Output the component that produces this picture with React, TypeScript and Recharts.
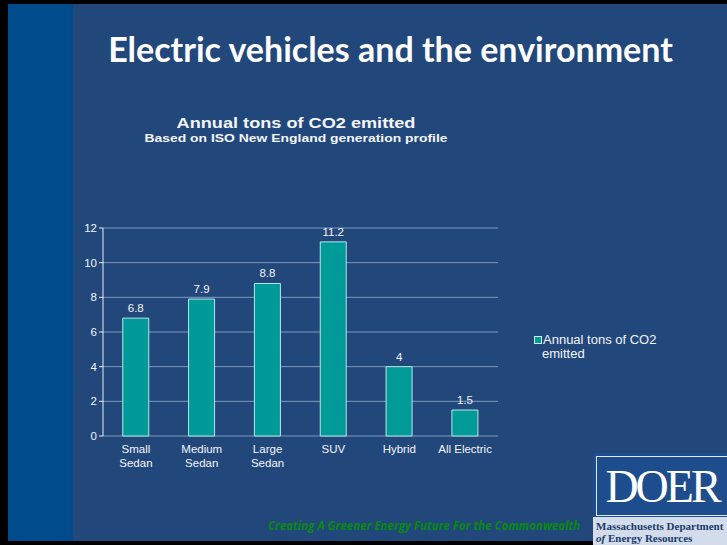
import { BarChart, Bar, XAxis, YAxis, CartesianGrid, LabelList } from "recharts";

const categories = ["Small\nSedan", "Medium\nSedan", "Large\nSedan", "SUV", "Hybrid", "All Electric"];
const co2Tons = [6.8, 7.9, 8.8, 11.2, 4, 1.5];
const yTicks = [0, 2, 4, 6, 8, 10, 12];
const boundaryTicks = [0, 1, 2, 3, 4, 5, 6];

const SERIES_NAME = "Annual tons of CO2 emitted";
const BAR_FILL = "#009a99";
const SLIDE_BG = "#22477b";
const STRIPE_BG = "#004b8b";
const TEXT = "#f2f5f9";

const data = categories.map((c, i) => ({ idx: i, name: c, value: co2Tons[i] }));

const CategoryTick = (props: any) => {
  const { x, y, payload } = props;
  const lines = String(payload.value).split("\n");
  return (
    <text x={x} y={y} textAnchor="middle" fill={TEXT} fontSize={11.5} fontFamily="Liberation Sans, Arial">
      {lines.map((l, i) => (
        <tspan key={i} x={x} dy={i === 0 ? 9 : 14}>
          {l}
        </tspan>
      ))}
    </text>
  );
};

export default function App() {
  return (
    <div style={{ position: "absolute", left: 0, top: 0, width: 727, height: 545, background: "#000", overflow: "hidden" }}>
      <div style={{ position: "absolute", left: 8, top: 4, width: 719, height: 537, background: SLIDE_BG }} />
      <div style={{ position: "absolute", left: 8, top: 4, width: 65, height: 537, background: STRIPE_BG }} />

      {/* slide title */}
      <div
        style={{
          position: "absolute",
          left: 73,
          width: 635,
          top: 28,
          textAlign: "center",
          color: "#fff",
          fontFamily: "Lato, sans-serif",
          fontWeight: 700,
          fontSize: 34,
          whiteSpace: "nowrap",
        }}
      >
        Electric vehicles and the environment
      </div>

      {/* chart titles */}
      <div
        style={{
          position: "absolute",
          left: 146,
          width: 300,
          top: 114,
          textAlign: "center",
          color: TEXT,
          fontFamily: "Liberation Sans, Arial, sans-serif",
          fontWeight: 700,
          lineHeight: "normal",
          whiteSpace: "nowrap",
        }}
      >
        <div style={{ fontSize: 15.5, transform: "scaleX(1.17)" }}>{SERIES_NAME}</div>
        <div style={{ fontSize: 11.5, transform: "scaleX(1.21)" }}>Based on ISO New England generation profile</div>
      </div>

      <div style={{ position: "absolute", left: 0, top: 0 }}>
        <BarChart
          width={727}
          height={545}
          data={data}
          margin={{ top: 228, right: 229, bottom: 69, left: 63 }}
          barCategoryGap="30%"
        >
          <CartesianGrid vertical={false} stroke="#7f99bd" strokeWidth={1} />
          <XAxis
            xAxisId="edges"
            type="number"
            dataKey="idx"
            domain={[0, 6]}
            ticks={boundaryTicks}
            tick={false}
            height={0}
            stroke="#e8eef5"
            tickSize={5}
          />
          <XAxis
            xAxisId="cats"
            dataKey="name"
            type="category"
            axisLine={false}
            tickLine={false}
            height={40}
            interval={0}
            tick={<CategoryTick />}
          />
          <YAxis
            width={40}
            domain={[0, 12]}
            ticks={yTicks}
            stroke="#e8eef5"
            tickSize={4}
            tick={{ fill: TEXT, fontSize: 11.5, fontFamily: "Liberation Sans, Arial" }}
          />
          <Bar
            xAxisId="cats"
            dataKey="value"
            name={SERIES_NAME}
            fill={BAR_FILL}
            stroke="#b8e6e6"
            strokeWidth={1}
            isAnimationActive={false}
          >
            <LabelList
              dataKey="value"
              position="top"
              offset={6}
              fill={TEXT}
              fontSize={11.5}
              fontFamily="Liberation Sans, Arial"
            />
          </Bar>
        </BarChart>
      </div>

      {/* legend */}
      <div
        style={{
          position: "absolute",
          left: 534,
          top: 333,
          width: 170,
          color: TEXT,
          fontFamily: "Liberation Sans, Arial, sans-serif",
          fontSize: 13,
          lineHeight: "14px",
        }}
      >
        <span
          style={{
            display: "inline-block",
            width: 6,
            height: 6,
            background: BAR_FILL,
            border: "1px solid #d0eeee",
            marginRight: 1,
            verticalAlign: "0px",
          }}
        />
        {SERIES_NAME.replace(" emitted", "")}
        <div style={{ paddingLeft: 8 }}>emitted</div>
      </div>

      {/* footer */}
      <div
        style={{
          position: "absolute",
          left: 268,
          top: 518,
          color: "#078a10",
          fontFamily: "Open Sans, sans-serif",
          fontStyle: "italic",
          fontWeight: 700,
          fontSize: 11.5,
          whiteSpace: "nowrap",
        }}
      >
        Creating A Greener Energy Future For the Commonwealth
      </div>

      {/* DOER logo */}
      <div style={{ position: "absolute", left: 593, top: 453, width: 134, height: 92, background: "#1d4d8c" }}>
        <div
          style={{
            position: "absolute",
            left: 3,
            top: 3,
            right: 0,
            height: 58,
            border: "1px solid #dfe8f3",
            borderRight: "none",
            color: "#fff",
            fontFamily: "Liberation Serif, serif",
            fontSize: 46,
            lineHeight: "60px",
            textAlign: "center",
            letterSpacing: -3,
          }}
        >
          DOER
        </div>
        <div
          style={{
            position: "absolute",
            left: 0,
            top: 64,
            right: 0,
            bottom: 0,
            background: "#d3dcea",
            color: "#1b3a6b",
            fontFamily: "Liberation Serif, serif",
            fontWeight: 700,
            fontSize: 11,
            lineHeight: "12px",
            padding: "3px 0 0 3px",
            whiteSpace: "nowrap",
          }}
        >
          Massachusetts Department
          <br />
          <i>of</i> Energy Resources
        </div>
      </div>
    </div>
  );
}
